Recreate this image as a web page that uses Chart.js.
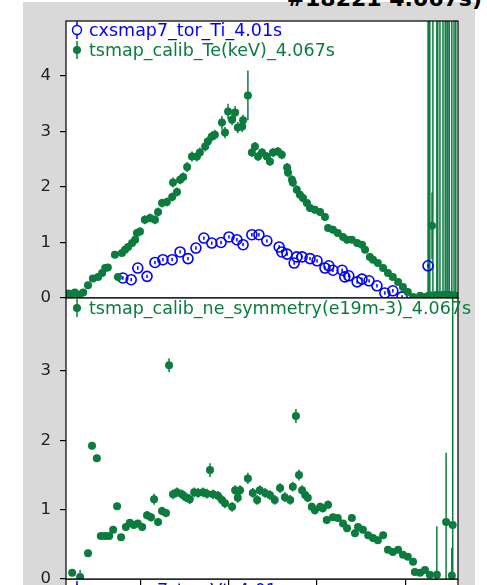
<!DOCTYPE html>
<html>
<head>
<meta charset="utf-8">
<script src="https://cdn.jsdelivr.net/npm/chart.js@4.4.1/dist/chart.umd.min.js"></script>
<style>
  html, body { margin: 0; padding: 0; background: #fff; overflow: hidden; width: 487px; height: 585px; }
  #fig { position: absolute; left: 23px; top: 2px; width: 452px; height: 600px; background: #d9d9d9; }
  .panel { position: absolute; left: 23px; width: 452px; }
  #title { position: absolute; right: 5px; top: -13px; font: bold 22px 'DejaVu Sans'; color: #000; white-space: nowrap; line-height: 24px; }
</style>
</head>
<body>
<div id="fig"></div>
<div id="title">#18221 4.067s)</div>
<div class="panel" style="top:579px;height:100px;z-index:1"><canvas id="c3"></canvas></div>
<div class="panel" style="top:2px;height:306px;z-index:2"><canvas id="c1"></canvas></div>
<div class="panel" style="top:288px;height:297px;z-index:3"><canvas id="c2"></canvas></div>
<script>
// major radius (m), values below
const tiR = [1.359, 1.378, 1.393, 1.414, 1.432, 1.450, 1.471, 1.489, 1.507, 1.525, 1.543, 1.561, 1.582, 1.600,
  1.618, 1.632, 1.652, 1.668, 1.686, 1.714, 1.720, 1.732, 1.748, 1.754, 1.766, 1.784, 1.800, 1.818, 1.827, 1.836,
  1.857, 1.863, 1.872, 1.891, 1.902, 1.918, 1.936, 1.954, 1.972, 1.993, 2.052];
const tiVal = [0.36, 0.33, 0.54, 0.39, 0.64, 0.69, 0.69, 0.83, 0.71, 0.90, 1.08, 0.99, 1.00, 1.10,
  1.05, 0.96, 1.14, 1.14, 1.03, 0.92, 0.83, 0.79, 0.63, 0.74, 0.74, 0.71, 0.67, 0.54, 0.58, 0.50,
  0.50, 0.38, 0.40, 0.29, 0.34, 0.31, 0.22, 0.09, 0.13, 0.02, 0.58];
const tiErr = tiR.map(() => 0.03);

const teR = [1.235, 1.244, 1.250, 1.260, 1.269, 1.280, 1.291, 1.303, 1.312, 1.319, 1.325, 1.348, 1.341, 1.357,
  1.364, 1.371, 1.380, 1.387, 1.391, 1.398, 1.409, 1.421, 1.432, 1.439, 1.448, 1.459, 1.471, 1.473, 1.482,
  1.489, 1.496, 1.505, 1.516, 1.527, 1.534, 1.546, 1.552, 1.561, 1.568, 1.584, 1.591, 1.598, 1.607, 1.614,
  1.620, 1.630, 1.632, 1.643, 1.652, 1.659, 1.666, 1.675, 1.686, 1.693, 1.700, 1.711, 1.720, 1.732, 1.734,
  1.743, 1.745, 1.754, 1.761, 1.768, 1.777, 1.784, 1.795, 1.807, 1.818, 1.825, 1.836, 1.847, 1.859, 1.868,
  1.879, 1.891, 1.902, 1.909, 1.920, 1.927, 1.938, 1.950, 1.961, 1.972, 1.984, 1.995, 2.006, 2.018, 2.034,
  2.045, 2.052, 2.054, 2.056, 2.061, 2.063, 2.072, 2.074, 2.079, 2.086, 2.091, 2.095, 2.097, 2.100, 2.106,
  2.111, 2.115];
const teVal = [0.08, 0.07, 0.10, 0.06, 0.10, 0.23, 0.35, 0.38, 0.45, 0.54, 0.55, 0.38, 0.78, 0.81,
  0.87, 0.92, 0.99, 1.05, 1.17, 1.20, 1.41, 1.44, 1.41, 1.55, 1.71, 1.73, 1.82, 2.08, 1.91,
  2.13, 2.18, 2.36, 2.55, 2.55, 2.62, 2.73, 2.82, 2.91, 2.94, 3.16, 2.98, 3.36, 3.21, 3.34,
  3.07, 3.09, 3.20, 3.65, 2.62, 2.73, 2.55, 2.62, 2.55, 2.46, 2.62, 2.64, 2.58, 2.35, 2.26,
  2.13, 2.08, 1.95, 1.86, 1.80, 1.71, 1.62, 1.59, 1.55, 1.46, 1.26, 1.23, 1.17, 1.10, 1.05,
  1.05, 0.99, 0.96, 0.87, 0.74, 0.69, 0.63, 0.54, 0.45, 0.38, 0.29, 0.20, 0.11, 0.02, 0.04,
  0.02, 0.03, 0.04, 0.05, 1.30, 0.04, 0.06, 0.05, 0.03, 0.06, 0.05, 0.04, 0.05, 0.06, 0.03,
  0.05, 0.04];
const teErr = [0.05, 0.05, 0.05, 0.05, 0.05, 0.06, 0.06, 0.06, 0.06, 0.06, 0.06, 0.06, 0.06, 0.06,
  0.07, 0.07, 0.07, 0.07, 0.07, 0.07, 0.08, 0.08, 0.08, 0.08, 0.08, 0.08, 0.08, 0.09, 0.08,
  0.08, 0.08, 0.09, 0.09, 0.09, 0.09, 0.09, 0.09, 0.09, 0.09, 0.12, 0.10, 0.14, 0.10, 0.12,
  0.10, 0.10, 0.10, 0.45, 0.08, 0.08, 0.08, 0.08, 0.08, 0.08, 0.08, 0.08, 0.08, 0.08, 0.08,
  0.08, 0.08, 0.08, 0.08, 0.08, 0.07, 0.07, 0.07, 0.07, 0.07, 0.07, 0.07, 0.06, 0.06, 0.06,
  0.06, 0.06, 0.06, 0.06, 0.06, 0.06, 0.06, 0.05, 0.05, 0.05, 0.05, 0.05, 0.05, 0.05, 0.05,
  0.05, 9, 9, 9, 0.6, 9, 9, 9, 9, 9, 9, 9, 9, 9, 9,
  9, 9];

const neR = [1.244, 1.262, 1.280, 1.289, 1.300, 1.309, 1.319, 1.328, 1.337, 1.346, 1.355, 1.366, 1.375, 1.384,
  1.393, 1.403, 1.414, 1.423, 1.430, 1.439, 1.448, 1.457, 1.464, 1.473, 1.482, 1.493, 1.502, 1.511, 1.521,
  1.530, 1.541, 1.550, 1.557, 1.564, 1.575, 1.584, 1.591, 1.607, 1.614, 1.620, 1.625, 1.643, 1.654, 1.664,
  1.670, 1.682, 1.693, 1.704, 1.716, 1.727, 1.739, 1.745, 1.752, 1.759, 1.766, 1.773, 1.779, 1.788, 1.795,
  1.807, 1.813, 1.822, 1.825, 1.836, 1.847, 1.859, 1.868, 1.879, 1.886, 1.893, 1.904, 1.916, 1.927, 1.938,
  1.950, 1.961, 1.972, 1.984, 1.995, 2.006, 2.018, 2.022, 2.034, 2.045, 2.056, 2.072, 2.093, 2.106, 2.108];
const neVal = [0.09, 0.03, 0.37, 1.92, 1.74, 0.62, 0.62, 0.62, 0.71, 1.05, 0.60, 0.75, 0.81, 0.78,
  0.80, 0.75, 0.92, 0.89, 1.15, 0.82, 0.98, 0.95, 3.08, 1.22, 1.25, 1.22, 1.18, 1.15, 1.25,
  1.24, 1.25, 1.23, 1.57, 1.22, 1.20, 1.14, 1.09, 1.04, 1.28, 1.17, 1.28, 1.45, 1.24, 1.14,
  1.28, 1.24, 1.21, 1.14, 1.31, 1.18, 1.14, 1.33, 2.35, 1.50, 1.28, 1.21, 1.17, 1.04, 0.99,
  1.04, 1.02, 0.85, 1.07, 0.89, 0.88, 0.80, 0.73, 0.88, 0.66, 0.75, 0.71, 0.63, 0.59, 0.56,
  0.63, 0.42, 0.39, 0.42, 0.35, 0.32, 0.25, 0.10, 0.09, 0.13, 0.06, 0.06, 0.82, 0.05, 0.78];
const neErr = [0.04, 0.1, 0.04, 0.05, 0.05, 0.04, 0.04, 0.04, 0.05, 0.05, 0.04, 0.05, 0.05, 0.05,
  0.05, 0.05, 0.06, 0.06, 0.08, 0.05, 0.06, 0.06, 0.1, 0.07, 0.07, 0.07, 0.07, 0.07, 0.07,
  0.07, 0.07, 0.07, 0.1, 0.07, 0.07, 0.07, 0.07, 0.07, 0.07, 0.07, 0.07, 0.08, 0.07, 0.07,
  0.07, 0.07, 0.07, 0.07, 0.07, 0.07, 0.07, 0.07, 0.1, 0.08, 0.07, 0.06, 0.06, 0.06, 0.06,
  0.06, 0.06, 0.06, 0.06, 0.05, 0.05, 0.05, 0.05, 0.05, 0.05, 0.05, 0.05, 0.05, 0.05, 0.05,
  0.05, 0.04, 0.04, 0.04, 0.04, 0.04, 0.04, 0.04, 0.04, 0.04, 0.04, 0.7, 1.0, 0.4, 4];

const xTicks = [1.4, 1.6, 1.8, 2.0];
const teTicks = [0, 1, 2, 3, 4];
const neTicks = [0, 1, 2, 3];

const BLUE = '#0000ff';
const GREEN = '#0a7c3e';
const LEGEND_FONT = '17.5px "DejaVu Sans"';

function pts(xs, ys) {
  return xs.map((x, i) => ({ x: x, y: ys[i] }));
}

// error bars drawn under the markers, clipped like matplotlib
const errorBars = {
  id: 'errorBars',
  beforeDatasetsDraw(chart) {
    const ctx = chart.ctx;
    const a = chart.chartArea;
    const ys = chart.scales.y;
    ctx.save();
    ctx.beginPath();
    ctx.rect(a.left, a.top, a.right - a.left, a.bottom - a.top);
    ctx.clip();
    chart.data.datasets.forEach((ds, di) => {
      if (!ds.errs) return;
      const meta = chart.getDatasetMeta(di);
      ctx.strokeStyle = ds.borderColor;
      ctx.lineWidth = 1.5;
      meta.data.forEach((p, i) => {
        const v = ds.data[i].y, e = ds.errs[i];
        ctx.beginPath();
        ctx.moveTo(p.x, ys.getPixelForValue(v - e));
        ctx.lineTo(p.x, ys.getPixelForValue(v + e));
        ctx.stroke();
      });
    });
    ctx.restore();
  }
};

const frame = {
  id: 'frame',
  beforeDraw(chart) {
    const a = chart.chartArea;
    chart.ctx.fillStyle = '#fff';
    chart.ctx.fillRect(a.left, a.top, a.right - a.left, a.bottom - a.top);
  },
  afterDraw(chart) {
    const ctx = chart.ctx;
    const a = chart.chartArea;
    const opts = chart.options.plugins.frame;
    ctx.save();
    ctx.strokeStyle = '#000';
    ctx.lineWidth = 1.2;
    ctx.strokeRect(a.left, a.top, a.right - a.left, a.bottom - a.top);
    // legend, top left inside the axes, no box
    ctx.font = LEGEND_FONT;
    ctx.textBaseline = 'middle';
    (opts.items || []).forEach((it, k) => {
      const y = a.top + (opts.offset || 9) + k * 20;
      const mx = a.left + 11;
      ctx.strokeStyle = it.color;
      ctx.fillStyle = it.color;
      ctx.lineWidth = 1.5;
      ctx.beginPath();
      ctx.moveTo(mx, y - 9);
      ctx.lineTo(mx, y + 9);
      ctx.stroke();
      ctx.beginPath();
      if (it.marker === 'triangle') {
        ctx.moveTo(mx, y - 5); ctx.lineTo(mx + 5, y + 4); ctx.lineTo(mx - 5, y + 4); ctx.closePath();
        ctx.fillStyle = '#fff'; ctx.fill(); ctx.stroke();
      } else if (it.marker === 'open') {
        ctx.arc(mx, y, 4.5, 0, Math.PI * 2);
        ctx.fillStyle = '#fff'; ctx.fill(); ctx.stroke();
      } else {
        ctx.arc(mx, y, 4, 0, Math.PI * 2);
        ctx.fill();
      }
      ctx.fillStyle = it.color;
      ctx.fillText(it.text, a.left + 23, y + 1);
    });
    ctx.restore();
  }
};

function yScale(max, ticks) {
  return {
    type: 'linear', min: 0, max: max,
    afterBuildTicks: s => { s.ticks = ticks.map(v => ({ value: v })); },
    afterFit: s => { s.width = 43; s.paddingTop = 0; s.paddingBottom = 0; },
    ticks: { font: { family: 'DejaVu Sans', size: 16.5 }, color: '#222', padding: 9 },
    grid: { drawOnChartArea: false, tickLength: 6, color: '#000', lineWidth: 1.2 },
    border: { display: false }
  };
}

function xScale(show) {
  return {
    type: 'linear', min: 1.23, max: 2.12, display: show,
    afterBuildTicks: s => { s.ticks = xTicks.map(v => ({ value: v })); },
    afterFit: s => { s.height = show ? 6 : 0; s.paddingLeft = 0; s.paddingRight = 0; },
    ticks: { display: false },
    grid: { drawOnChartArea: false, tickLength: 6, color: '#000', lineWidth: 1.2 },
    border: { display: false }
  };
}

const common = {
  responsive: true,
  maintainAspectRatio: false,
  animation: false,
  events: []
};

new Chart(document.getElementById('c1'), {
  type: 'scatter',
  data: {
    datasets: [
      { data: pts(teR, teVal), errs: teErr, backgroundColor: GREEN, borderColor: GREEN, pointRadius: 4, borderWidth: 0 },
      { data: pts(tiR, tiVal), errs: tiErr, backgroundColor: 'rgba(0,0,0,0)', borderColor: BLUE, pointRadius: 5, borderWidth: 1.6 }
    ]
  },
  options: Object.assign({}, common, {
    layout: { padding: { top: 19, right: 17, left: 0, bottom: 10 } },
    scales: { x: xScale(false), y: yScale(4.99, teTicks) },
    plugins: {
      legend: { display: false }, tooltip: { enabled: false },
      frame: { offset: 9, items: [
        { text: 'cxsmap7_tor_Ti_4.01s', color: BLUE, marker: 'open' },
        { text: 'tsmap_calib_Te(keV)_4.067s', color: GREEN, marker: 'filled' }
      ] }
    }
  }),
  plugins: [frame, errorBars]
});

new Chart(document.getElementById('c2'), {
  type: 'scatter',
  data: {
    datasets: [
      { data: pts(neR, neVal), errs: neErr, backgroundColor: GREEN, borderColor: GREEN, pointRadius: 4, borderWidth: 0 }
    ]
  },
  options: Object.assign({}, common, {
    layout: { padding: { top: 10, right: 17, left: 0, bottom: 0 } },
    scales: { x: xScale(true), y: yScale(4.05, neTicks) },
    plugins: {
      legend: { display: false }, tooltip: { enabled: false },
      frame: { offset: 10, items: [
        { text: 'tsmap_calib_ne_symmetry(e19m-3)_4.067s', color: GREEN, marker: 'filled' }
      ] }
    }
  }),
  plugins: [frame, errorBars]
});

new Chart(document.getElementById('c3'), {
  type: 'scatter',
  data: { datasets: [{ data: [] }] },
  options: Object.assign({}, common, {
    layout: { padding: { top: 0, right: 17, left: 43, bottom: 0 } },
    scales: { x: { display: false, min: 1.23, max: 2.12 }, y: { display: false, min: 0, max: 1 } },
    plugins: {
      legend: { display: false }, tooltip: { enabled: false },
      frame: { offset: 11, items: [
        { text: 'cxsmap7_tor_Vt_4.01s', color: BLUE, marker: 'triangle' }
      ] }
    }
  }),
  plugins: [frame]
});
</script>
</body>
</html>
